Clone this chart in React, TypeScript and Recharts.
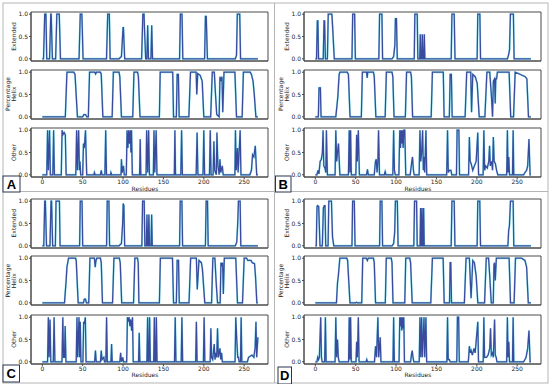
import { LineChart, Line, XAxis, YAxis, ReferenceArea } from "recharts";

type Pt = [number, number];

const residueTicks = [0, 50, 100, 150, 200, 250];
const fractionTicks = [0, 0.5, 1];
const residueDomain = [-14, 279.5];
const fractionDomain = [-0.05, 1.05];

// ---- panel A ----
const extendedA: Pt[] = [[0,0],[1.5,0],[3,1],[4.5,1],[5.5,0],[9,0],[10.5,1],[11,1],[12.5,0],[16.5,0],[18,1],[21,1],[22.5,0],[45.5,0],[47,1],[49,1],[50.5,0],[79.5,0],[81,1],[83,1],[84,0],[95,0],[98,0.05],[100,0.7],[100.5,0.7],[102,0],[123,0],[124.5,1],[126,1],[126.5,0.7],[128,0],[129.5,0],[130.5,0.75],[131.5,0],[134.5,0],[135.5,0.75],[136.5,0],[170,0],[171,1],[173,1],[174,0],[201,0],[202,0.95],[203,0.95],[204.5,0],[239,0],[240.5,0.08],[241.5,1],[244.5,1],[245.5,0],[267,0]];
const helixA: Pt[] = [[0,0],[28.5,0],[30.5,1],[39,1],[40.5,0.95],[43.5,0],[50,0],[51.5,0.05],[53.5,0.05],[55,0],[57,0],[58.5,1],[65,1],[66,0.96],[67,1],[72,1],[73,0.95],[75,0],[86.5,0],[88,1],[95,1],[96,0.9],[98,0],[112,0],[113.5,1],[118,1],[119,0.9],[121,0],[145,0],[146,1],[161.5,1],[162.5,0],[166,0],[167,0.95],[168.5,0.95],[169.5,0],[181.5,0],[183.5,1],[190.5,1],[191.3,0.5],[192.5,0.97],[195.5,0.93],[198,0.8],[200,0],[208.5,0],[210.5,1],[213,1],[214.5,0.5],[216,0.05],[219,0],[220,0.9],[221,0.8],[222.5,0.9],[223.5,0.1],[225,1],[238.5,1],[240.5,0],[247.5,0],[249,1],[257.5,1],[259,0.95],[261,0.8],[262.5,0.5],[264.5,0],[267,0]];
const otherA: Pt[] = [[0,0],[5.5,0],[6.5,1],[7.5,0.1],[9,1],[10,0],[13,0],[14,1],[15,0],[23.5,0],[24.5,1],[25.5,0.9],[27,0.95],[28.5,0.9],[29.5,0],[41.5,0],[42.5,1],[43.5,0.1],[45,1],[46,0.1],[46.7,0.3],[47.5,0],[50,0],[51,0.7],[52,0.6],[53.5,1],[55,0],[64,0],[64.5,0.05],[65.5,0],[72,0],[73,0.1],[74,0],[77.5,0],[78.5,1],[79.5,0],[84.5,0],[85,0.05],[86,0],[97.5,0],[98,0.35],[99,0.05],[100.5,0.2],[101.5,0],[104,0],[105,1],[106,0.6],[107,1],[108,0.7],[109,1],[109.7,0.5],[110.5,1],[111.5,0],[120.5,0],[121.25,0.8],[122,0],[128.5,0],[129.2,1],[130.5,0.05],[131.7,1],[132.7,0],[137.5,0],[138.3,1],[139.3,0.05],[141,1],[142,0],[163.5,0],[164.2,1],[165,0],[171.5,0],[172.5,1],[173.5,0],[190.5,0],[191.7,0.95],[192.7,0],[199,0],[200,1],[201,0],[207,0],[208,1],[209,0],[211.5,0],[212.5,0.75],[213.5,0.1],[215.5,0],[216.25,0.95],[217.5,0.2],[219,0],[220,0.35],[221,0.05],[222.9,0.2],[224,0],[238.5,0],[239.2,1],[240.2,0.1],[241.7,0.6],[242.5,0.05],[245,1],[246,0],[257,0],[259,0.1],[260.4,0.45],[262,0.4],[263.75,0.65],[265.5,0],[267,0]];

// ---- panel B ----
const extendedB: Pt[] = [[0,0],[1.5,0],[2.5,0.85],[3.2,0.85],[4,0],[9.8,0],[10.8,0.85],[11.5,0.85],[12.5,0],[15,0],[16,1],[20.5,1],[21.5,0.7],[22.2,0.45],[23.5,0],[45.4,0],[46.3,1],[48.7,1],[49.6,0],[78.7,0],[79.6,1],[82.5,1],[83.3,0],[95,0],[97,0.05],[98.5,0.3],[99.2,0.9],[100.5,0.9],[101.5,0],[122.5,0],[123.3,1],[126.2,1],[127,0],[129.3,0],[130,0.55],[130.7,0],[131.8,0],[132.5,0.55],[133.2,0],[134.3,0],[135,0.55],[135.7,0],[168.3,0],[169.2,1],[172,1],[173,0],[200.4,0],[201.2,1],[203.8,1],[204.6,0],[238,0],[239.5,0.1],[240.5,0.2],[241.6,1],[245.3,1],[246.2,0],[267,0]];
const helixB: Pt[] = [[0,0],[3.8,0],[4.6,0.65],[6.3,0.65],[7.1,0],[25.4,0],[27.9,0.45],[29.5,0.95],[30.4,1],[39.6,1],[41,0.95],[43,0],[57,0],[58.3,1],[63.5,1],[64.2,0.87],[65,1],[72,1],[73,0.9],[75,0],[86.5,0],[88,1],[95,1],[96,0.9],[97.5,0],[111.5,0],[113,1],[118,1],[119,0.9],[120.5,0],[143.5,0],[145,1],[158.5,1],[159.5,0],[166,0],[167,0.95],[168.5,0.95],[169.5,0],[185.5,0],[187.5,1],[192.5,1],[193.5,0.1],[195,0.95],[198,0.9],[200.5,0.75],[203,0],[210,0],[212.5,1],[216,1],[218,0.5],[219.5,0],[220.5,0.8],[222,0.85],[222.8,0.3],[223.5,0.85],[224.5,0.85],[225.5,1],[240,1],[242,0],[245.5,0],[247.5,1],[254,0.95],[260,0.9],[262,0.85],[264,0],[267,0]];
const otherB: Pt[] = [[0,0],[2,0],[3.3,0.1],[4.5,0.02],[6,0.3],[7.5,0.35],[8.8,0.5],[9.6,1],[10.5,0.2],[12,0.15],[13,0.05],[13.75,1],[15,0],[24.5,0],[25.4,1],[26.5,0.3],[27.5,0.5],[28.7,0.7],[30.4,0],[41,0],[42,1],[42.9,0.05],[43.7,1],[44.6,0],[50.2,0],[51.2,0.9],[52,0.3],[53.3,1],[54.6,0],[63.5,0],[64.6,0.12],[65.6,0],[73,0],[74.5,0.3],[75.5,0.35],[76.5,0.05],[77.5,0.3],[78.3,1],[79.5,0],[85.5,0],[86.5,0.07],[87.5,0],[96,0],[97,1],[98,0.1],[99,0],[103.5,0],[104.6,1],[105.5,0.6],[106.2,1],[107,0.7],[107.9,1],[108.8,0.6],[109.6,1],[110.8,1],[112,0],[117.5,0],[119.5,0.3],[120.4,0.4],[121.5,0.1],[122.5,0],[128.6,0],[129.6,1],[130.6,0.3],[131.7,0.5],[132.9,1],[133.8,0.1],[134.6,0.4],[135.5,0.05],[137,1],[138,0],[162.7,0],[163.75,1],[164.7,0.05],[166,0.1],[168,0.1],[169,0],[174.8,0],[175.6,1],[177.8,1],[178.6,0],[189.8,0],[190.8,0.85],[191.8,0.3],[193,0.25],[195,0.1],[197,0.2],[199.2,0.3],[201.2,0.95],[202.2,0],[207.8,0],[208.75,1],[209.7,0.1],[211,0.2],[213,0.15],[214.8,0.3],[215.8,0.65],[216.7,0.2],[218.5,0.3],[219.5,0.1],[220.5,0.85],[221.5,0.3],[223,0.25],[224.5,0.1],[226,0],[237,0],[237.9,1],[238.7,0.05],[239.6,0.4],[240.5,0],[244.2,0],[245,1],[245.8,0],[258,0],[259.6,0.05],[261.7,0.1],[263,0.2],[264.6,0.8],[266,0],[267,0]];

// ---- panel C ----
const extendedC: Pt[] = [[0,0],[1.8,0],[3,1],[3.8,1],[5.2,0],[9.5,0],[10.8,1],[11.5,1],[12.8,0],[16.2,0],[17,1],[21.2,1],[22,0],[46.2,0],[47,1],[49.2,1],[50,0],[79.6,0],[80.4,1],[82.5,1],[83.3,0],[95,0],[98,0.05],[99.5,0.5],[100.2,0.95],[101,0.9],[102,0],[123.3,0],[124.2,1],[126.2,1],[127,0],[128.8,0],[129.6,0.7],[130.4,0],[131.2,0],[132,0.7],[132.8,0],[134.6,0],[135.4,0.7],[136.2,0],[170,0],[170.8,1],[172.9,1],[173.7,0],[202,0],[202.9,1],[204.6,1],[205.4,0],[239,0],[240.8,0.08],[242,0.5],[242.9,1],[245,1],[245.8,0],[267,0]];
const helixC: Pt[] = [[0,0],[27.5,0],[28.3,0.2],[29.5,0.5],[30.5,0.8],[32.5,1],[41.2,1],[42,0.95],[44.4,0],[51,0],[52,0.08],[53.5,0.08],[54.6,0],[57.5,0],[59,1],[64.5,1],[65.5,0.8],[66.5,0.95],[67.5,1],[72,1],[73,0.9],[74.5,0],[87,0],[88.7,1],[95.4,1],[96.5,0.9],[98.3,0],[113,0],[114.6,1],[117.9,1],[118.8,0.9],[119.6,0],[145,0],[146.2,1],[161.2,1],[162.5,0],[166,0],[167,0.95],[168.7,0.95],[169.6,0],[181.7,0],[183.7,1],[190.8,1],[191.9,0.3],[194,0.95],[197,0.9],[198.3,0.75],[201.2,0],[209.6,0],[211.2,1],[213.7,1],[215.5,0.4],[217,0],[220.3,0],[221.2,0.9],[222.2,0.85],[223.3,0.9],[224.2,0.2],[225.4,1],[239.6,1],[241.7,0],[247.9,0],[250,1],[253,1],[254.5,0.95],[258.5,0.95],[260,0.9],[262.8,0.88],[264,0.6],[265.7,0],[267,0]];
const otherC: Pt[] = [[0,0],[6.5,0],[7.5,1],[8.4,0.1],[9.6,0.95],[10.5,0],[13.6,0],[14.6,1],[15.6,0],[24.4,0],[25.4,1],[26.3,0.1],[27.5,0.1],[28.3,0.8],[29.3,0],[42,0],[42.9,1],[43.8,0.1],[45.4,1],[46.2,0.1],[47,0.9],[47.9,0],[50.3,0],[51.2,0.9],[52,0.85],[53.3,1],[54.2,0],[64.8,0],[65.8,0.25],[66.8,0],[72,0],[73,0.25],[74,0.05],[76.2,0.1],[77,0],[78.7,0],[79.6,1],[80.5,0],[85,0],[85.8,0.4],[86.6,0],[96,0],[97,0.2],[98,0],[99.6,0.1],[100.5,0],[104.5,0],[105.4,1],[106.4,0.9],[107.5,1],[108.5,0.8],[109.6,0.95],[110.6,0.7],[111.7,1],[112.6,0],[119.2,0],[120,0.65],[120.8,0],[129.5,0],[130.4,1],[131.2,0],[132,0],[132.9,1],[133.8,0],[137.9,0],[138.75,1],[139.6,0],[140.4,0],[141.25,1],[142.1,0],[163.7,0],[164.6,1],[165.5,0],[172,0],[172.9,1],[173.8,0],[189.9,0],[190.8,0.9],[191.7,0],[199.5,0],[200.4,1],[201.3,0],[207.9,0],[208.75,0.75],[209.6,0.1],[211,0.05],[212.9,0.4],[213.8,0.05],[215,0.2],[216,0.1],[217,0.75],[218,0.1],[220,0.3],[221,0.05],[222,0.2],[223,0],[238.7,0],[239.6,1],[240.8,0.5],[242,0.1],[242.9,0.1],[243.8,0],[245.4,0],[246.25,1],[247.1,0],[254,0],[255.4,0.1],[257,0.12],[259.6,0.15],[262,0.1],[263.5,0.3],[264.6,0.9],[265.5,0.1],[267,0.55]];

// ---- panel D ----
const extendedD: Pt[] = [[0,0],[1.2,0],[2.1,0.88],[2.9,0.9],[4.2,0.88],[5.8,0],[8.7,0],[10,0.85],[11.2,0.9],[12,0.9],[12.9,0],[15.8,0],[16.7,1],[20,1],[20.8,0.5],[21.3,0.2],[22.9,0],[45.4,0],[46.2,1],[48.3,1],[49.2,0],[79.6,0],[80.4,1],[82.5,1],[83.3,0],[95,0],[97,0.05],[98.3,0.3],[99.2,1],[101.6,1],[102.5,0],[122,0],[122.9,1],[125.4,1],[126.2,0],[129.7,0],[130.4,0.85],[131.1,0],[131.5,0],[132.2,0.85],[132.9,0],[133.5,0],[134.2,0.85],[134.9,0],[168.3,0],[169.2,1],[172,1],[172.9,0],[200.4,0],[201.2,1],[203.7,1],[204.6,0],[238.5,0],[239.5,0.35],[240.4,0.45],[241.7,1],[245,1],[245.8,0],[267,0]];
const helixD: Pt[] = [[0,0],[26.2,0],[27.5,0.45],[28.5,0.6],[30.4,1],[39,1],[40,0.95],[42.9,0],[50,0],[51,0.01],[52,0],[57.5,0],[58.75,1],[63,1],[64.5,0.95],[65.5,1],[72,1],[73,0.9],[74.6,0],[86.7,0],[87.9,1],[94,1],[95,0.9],[96.2,0],[110.8,0],[112,1],[117,1],[118,0.9],[120,0],[143,0],[145,1],[158.3,1],[159.6,0],[166.2,0],[167,0.9],[167.8,0.9],[168.7,0],[184.6,0],[186.7,1],[190.8,1],[192.9,0.1],[195,0.95],[197,0.9],[199.2,0.6],[201.25,0],[209.6,0],[211.7,1],[214.6,1],[216,0.6],[217.9,0],[220.4,0],[221.25,0.85],[222,0.9],[222.9,0.5],[224.2,1],[240,1],[241.7,0],[246.2,0],[247.9,1],[255.4,1],[259.6,0.95],[261.7,0.8],[263.75,0],[267,0]];
const otherD: Pt[] = [[0,0],[2,0],[3,0.1],[4,0.05],[5,0.1],[6.7,1],[7.6,0.1],[8.5,0],[11.6,0],[12.5,1],[13.4,0],[24.5,0],[25.4,1],[26.4,0.1],[27.5,0.5],[28.5,0.1],[29.5,0],[41.2,0],[42,1],[42.9,0.05],[43.7,1],[44.6,0],[50.4,0],[51.2,0.45],[52.1,0.1],[53.3,1],[54.2,0],[62.9,0],[63.7,0.05],[64.6,0],[73.3,0],[74.6,0.35],[75.8,0.1],[77.5,1],[78.5,0.1],[80.4,0.55],[81.3,0],[96.2,0],[97,1],[97.9,0],[103.7,0],[104.6,1],[105.4,0.8],[106.2,1],[107.1,0.7],[107.9,1],[108.8,0.75],[109.6,1],[110.4,0],[118,0],[119,0.15],[120,0.25],[121,0.1],[122,0],[128.7,0],[129.6,1],[130.6,0.1],[131.7,1],[132.6,0.1],[134.6,1],[135.5,0.1],[137,1],[137.9,0],[162.9,0],[163.75,1],[164.6,0.05],[166,0.05],[167,0],[175.2,0],[176,1],[177.5,1],[178.3,0],[189.5,0],[190.8,0.35],[192,0.2],[193,0.25],[194.5,0.15],[196.5,0.3],[198,0.2],[201.25,0.9],[202.1,0],[207.9,0],[208.75,1],[209.6,0.1],[212,0.1],[214,0.15],[216,0.3],[217,0.75],[218,0.15],[219.5,0.2],[220.5,0.1],[222,0.95],[222.9,0.15],[224,0.1],[225,0],[237,0],[237.9,1],[238.7,0.1],[239.6,0.45],[240.5,0],[244.2,0],[245,1],[245.8,0],[258,0],[259.6,0.05],[261,0.1],[263,0.3],[264.6,0.7],[266,0],[267,0]];

const panels = [
  { letter: "A", left: 0, top: 0, box: [3, 176, 17, 16], series: [extendedA, helixA, otherA] },
  { letter: "B", left: 273, top: 0, box: [275.5, 176, 15.5, 16], series: [extendedB, helixB, otherB] },
  { letter: "C", left: 0, top: 186.7, box: [3, 365, 16.5, 17], series: [extendedC, helixC, otherC] },
  { letter: "D", left: 273, top: 186.7, box: [278, 367, 13.5, 17], series: [extendedD, helixD, otherD] },
];

const FRAME_TOPS = [12, 69.5, 128];
const FRAME_LEFT = 31;
const FRAME_W = 237;
const FRAME_H = 49;
const FONT = "'DejaVu Sans', sans-serif";
const TEXT = "#222";
const AXIS = "#4a4a4a";

function Strip({ points, left, top, showLabels }: { points: Pt[]; left: number; top: number; showLabels: boolean }) {
  const data = points.map(([residue, value]) => ({ residue, value }));
  const axisH = showLabels ? 12 : 3;
  return (
    <div style={{ position: "absolute", left, top: top - 1 }}>
      <LineChart
        width={FRAME_LEFT + FRAME_W + 2}
        height={FRAME_H + 1 + axisH}
        data={data}
        margin={{ top: 1, right: 2, bottom: 0, left: 0 }}
      >
        <XAxis
          dataKey="residue"
          type="number"
          domain={residueDomain}
          ticks={residueTicks}
          allowDataOverflow
          height={axisH}
          tickSize={2}
          tickMargin={1}
          stroke={AXIS}
          tick={showLabels ? { fontSize: 6, fill: TEXT } : false}
        />
        <YAxis
          type="number"
          domain={fractionDomain}
          ticks={fractionTicks}
          allowDataOverflow
          width={FRAME_LEFT}
          tickSize={2}
          tickMargin={1}
          stroke={AXIS}
          tick={{ fontSize: 6, fill: TEXT }}
          tickFormatter={(v: number) => v.toFixed(1)}
        />
        <ReferenceArea
          x1={residueDomain[0]}
          x2={residueDomain[1]}
          y1={fractionDomain[0]}
          y2={fractionDomain[1]}
          fill="none"
          stroke={AXIS}
          strokeOpacity={1}
        />
        <Line type="linear" dataKey="value" stroke="#62e2ea" strokeOpacity={0.75} strokeWidth={1.9} dot={false} isAnimationActive={false} />
        <Line type="linear" dataKey="value" stroke="#3a4a9c" strokeWidth={1.25} dot={false} isAnimationActive={false} />
      </LineChart>
    </div>
  );
}

export default function App() {
  return (
    <div style={{ position: "absolute", left: 0, top: 0, width: 550, height: 384, background: "#fff", fontFamily: FONT }}>
      {panels.map((p) =>
        p.series.map((pts, i) => (
          <Strip key={p.letter + i} points={pts} left={p.left} top={p.top + FRAME_TOPS[i]} showLabels={i === 2} />
        ))
      )}
      <svg width={550} height={384} style={{ position: "absolute", left: 0, top: 0, pointerEvents: "none" }}>
        <rect x={3} y={3} width={545} height={380} fill="none" stroke="#b5b5b5" strokeWidth={1} />
        <line x1={274.5} y1={3} x2={274.5} y2={383} stroke="#b5b5b5" />
        <line x1={3} y1={191.5} x2={548} y2={191.5} stroke="#b5b5b5" />
        {panels.map((p) => {
          const cx = p.left + 14;
          const mid = (i: number) => p.top + FRAME_TOPS[i] + FRAME_H / 2;
          return (
            <g key={p.letter} fontFamily={FONT} fontSize={6} fill={TEXT}>
              <text transform={`translate(${cx},${mid(0)}) rotate(-90)`} textAnchor="middle" dy="0.35em">Extended</text>
              <text transform={`translate(${cx - 6.5},${mid(1)}) rotate(-90)`} textAnchor="middle" dy="0.35em">Percentage</text>
              <text transform={`translate(${cx},${mid(1)}) rotate(-90)`} textAnchor="middle" dy="0.35em">Helix</text>
              <text transform={`translate(${cx},${mid(2)}) rotate(-90)`} textAnchor="middle" dy="0.35em">Other</text>
              <text x={p.left + 145} y={p.top + 188.5} textAnchor="middle" dy="0.35em">Residues</text>
              <rect x={p.box[0]} y={p.box[1]} width={p.box[2]} height={p.box[3]} fill="#fff" stroke="#2b3550" strokeWidth={1} />
              <text
                x={p.box[0] + p.box[2] / 2}
                y={p.box[1] + p.box[3] / 2}
                textAnchor="middle"
                dy="0.36em"
                fontSize={13}
                fontWeight="bold"
                fontFamily="'Liberation Sans', Arial, sans-serif"
                fill="#000"
              >
                {p.letter}
              </text>
            </g>
          );
        })}
      </svg>
    </div>
  );
}
